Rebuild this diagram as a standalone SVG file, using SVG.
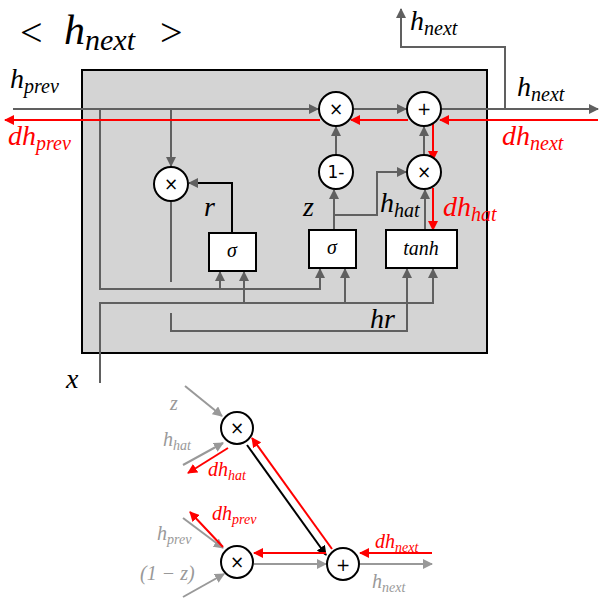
<svg xmlns="http://www.w3.org/2000/svg" width="601" height="603" viewBox="0 0 601 603" font-family="Liberation Serif, DejaVu Serif, serif">
<style>
.g{stroke:#606060;stroke-width:2;fill:none}
.lg{stroke:#999;stroke-width:2;fill:none}
.r{stroke:#f00;stroke-width:2;fill:none}
.k{stroke:#000;stroke-width:2;fill:none}
.c{fill:#fff;stroke:#000;stroke-width:2}
.t{font-style:italic}
.op{font-family:"DejaVu Sans",sans-serif;font-size:17px;text-anchor:middle;font-style:normal}
</style>
<defs>
<marker id="ag" markerWidth="10" markerHeight="10" refX="9" refY="5" orient="auto" markerUnits="userSpaceOnUse"><path d="M0,0L10,5L0,10z" fill="#606060"/></marker>
<marker id="al" markerWidth="10" markerHeight="10" refX="9" refY="5" orient="auto" markerUnits="userSpaceOnUse"><path d="M0,0L10,5L0,10z" fill="#999"/></marker>
<marker id="ar" markerWidth="10" markerHeight="10" refX="9" refY="5" orient="auto" markerUnits="userSpaceOnUse"><path d="M0,0L10,5L0,10z" fill="#f00"/></marker>
<marker id="ak" markerWidth="10" markerHeight="10" refX="9" refY="5" orient="auto" markerUnits="userSpaceOnUse"><path d="M0,0L10,5L0,10z" fill="#000"/></marker>
</defs>
<rect x="82" y="70" width="405" height="283" fill="#d4d4d4" stroke="#000" stroke-width="2"/>
<g id="connectors">
<path class="g" d="M13,109H318" marker-end="url(#ag)"/>
<path class="g" d="M354,109H406" marker-end="url(#ag)"/>
<path class="g" d="M442,109H598" marker-end="url(#ag)"/>
<path class="g" d="M505,109V47H401V9" marker-end="url(#ag)"/>
<path class="g" d="M171,109V166" marker-end="url(#ag)"/>
<path class="g" d="M171,202V282"/>
<path class="k" d="M232,233V183H189" marker-end="url(#ag)"/>
<path class="g" d="M100,109V289H320V269" marker-end="url(#ag)"/>
<path class="g" d="M220,289V272" marker-end="url(#ag)"/>
<path class="g" d="M100,383V303H433V269" marker-end="url(#ag)"/>
<path class="g" d="M244,303V272" marker-end="url(#ag)"/>
<path class="g" d="M345,303V269" marker-end="url(#ag)"/>
<path class="g" d="M171,313V331H407V269" marker-end="url(#ag)"/>
<path class="g" d="M334,230V190" marker-end="url(#ag)"/>
<path class="g" d="M336,155V127" marker-end="url(#ag)"/>
<path class="g" d="M334,215H377V172H406" marker-end="url(#ag)"/>
<path class="g" d="M425,230V190" marker-end="url(#ag)"/>
<path class="g" d="M424,155V127" marker-end="url(#ag)"/>
<path class="r" d="M598,120H440" marker-end="url(#ar)"/>
<path class="r" d="M408,120H351" marker-end="url(#ar)"/>
<path class="r" d="M320,120H5" marker-end="url(#ar)"/>
<path class="r" d="M433,120V160" marker-end="url(#ar)"/>
<path class="r" d="M433,188V230" marker-end="url(#ar)"/>
<path class="lg" d="M185,386L222,416" marker-end="url(#al)"/>
<path class="lg" d="M183,465L223,443" marker-end="url(#al)"/>
<path class="r" d="M228,448L188,473" marker-end="url(#ar)"/>
<path class="k" d="M247,445L326,555" marker-end="url(#ak)"/>
<path class="r" d="M332,549L252,438" marker-end="url(#ar)"/>
<path class="r" d="M326,553H254" marker-end="url(#ar)"/>
<path class="lg" d="M254,564H326" marker-end="url(#al)"/>
<path class="r" d="M432,553H360" marker-end="url(#ar)"/>
<path class="lg" d="M360,564H432" marker-end="url(#al)"/>
<path class="lg" d="M183,518L223,548" marker-end="url(#al)"/>
<path class="r" d="M223,547L190,512" marker-end="url(#ar)"/>
<path class="lg" d="M183,597L224,574" marker-end="url(#al)"/>
</g>
<g id="reset_mul"><circle class="c" cx="171" cy="184" r="17"/><text class="op" x="171" y="190">×</text></g>
<g id="sigma_r"><rect class="c" x="209" y="233" width="47" height="38"/><text class="t" x="232" y="257" font-size="20" text-anchor="middle">σ</text></g>
<g id="sigma_z"><rect class="c" x="309" y="230" width="47" height="38"/><text class="t" x="332" y="254" font-size="20" text-anchor="middle">σ</text></g>
<g id="tanh"><rect class="c" x="386" y="230" width="71" height="38"/><text class="t" x="421" y="255" font-size="20" text-anchor="middle">tanh</text></g>
<g id="upd_mul"><circle class="c" cx="336" cy="109" r="17"/><text class="op" x="336" y="115">×</text></g>
<g id="add"><circle class="c" cx="424" cy="109" r="17"/><text class="op" x="424" y="115">+</text></g>
<g id="one_minus"><circle class="c" cx="336" cy="172" r="17"/><text class="op" x="336" y="178" font-size="15">1-</text></g>
<g id="hat_mul"><circle class="c" cx="424" cy="172" r="17"/><text class="op" x="424" y="178">×</text></g>
<g id="b_mul1"><circle class="c" cx="237" cy="428" r="16"/><text class="op" x="237" y="434">×</text></g>
<g id="b_mul2"><circle class="c" cx="237" cy="562" r="16"/><text class="op" x="237" y="568">×</text></g>
<g id="b_add"><circle class="c" cx="343" cy="564" r="16"/><text class="op" x="343" y="571" font-size="22">+</text></g>
<g id="labels" font-style="italic">
<text x="20" y="46" font-size="40" font-style="normal">&lt;</text>
<text x="64" y="44" font-size="42">h<tspan font-size="30" dy="6">next</tspan></text>
<text x="160" y="46" font-size="40" font-style="normal">&gt;</text>
<text x="10" y="88" font-size="28">h<tspan font-size="20" dy="5">prev</tspan></text>
<text x="8" y="145" font-size="28" fill="#f00">dh<tspan font-size="20" dy="5">prev</tspan></text>
<text x="204" y="216" font-size="28">r</text>
<text x="303" y="216" font-size="28">z</text>
<text x="380" y="212" font-size="28">h<tspan font-size="20" dy="5">hat</tspan></text>
<text x="443" y="216" font-size="28" fill="#f00">dh<tspan font-size="20" dy="5">hat</tspan></text>
<text x="370" y="328" font-size="28">hr</text>
<text x="66" y="388" font-size="28">x</text>
<text x="410" y="30" font-size="28">h<tspan font-size="20" dy="5">next</tspan></text>
<text x="517" y="96" font-size="28">h<tspan font-size="20" dy="5">next</tspan></text>
<text x="502" y="145" font-size="28" fill="#f00">dh<tspan font-size="20" dy="5">next</tspan></text>
<g font-size="20">
<text x="170" y="410" fill="#999">z</text>
<text x="163" y="446" fill="#999">h<tspan font-size="14" dy="4">hat</tspan></text>
<text x="208" y="476" fill="#f00">dh<tspan font-size="14" dy="4">hat</tspan></text>
<text x="212" y="520" fill="#f00">dh<tspan font-size="14" dy="4">prev</tspan></text>
<text x="157" y="540" fill="#999">h<tspan font-size="14" dy="4">prev</tspan></text>
<text x="140" y="580" fill="#999">(1 − z)</text>
<text x="375" y="548" fill="#f00">dh<tspan font-size="14" dy="4">next</tspan></text>
<text x="372" y="588" fill="#999">h<tspan font-size="14" dy="4">next</tspan></text>
</g>
</g>
</svg>
